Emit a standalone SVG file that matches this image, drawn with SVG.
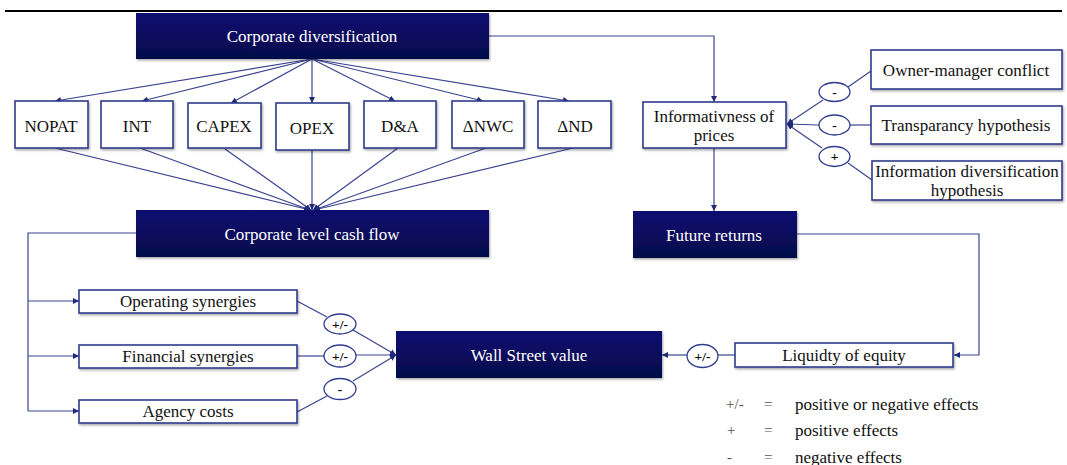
<svg xmlns="http://www.w3.org/2000/svg" width="1067" height="465" viewBox="0 0 1067 465">
<defs>
<linearGradient id="navy" x1="0" y1="0" x2="0" y2="1">
<stop offset="0" stop-color="#0c0f72"/>
<stop offset="1" stop-color="#05084a"/>
</linearGradient>
<filter id="sh" x="-5%" y="-10%" width="110%" height="130%">
<feDropShadow dx="1" dy="1.5" stdDeviation="1" flood-color="#000" flood-opacity="0.35"/>
</filter>
<marker id="ah" viewBox="0 0 10 10" refX="10" refY="5" markerWidth="6" markerHeight="6" orient="auto" markerUnits="userSpaceOnUse">
<path d="M0,0 L10,5 L0,10 z" fill="#1f2a78"/>
</marker>
</defs>
<style>
.dark{fill:url(#navy);filter:url(#sh);}
.box{fill:#fff;stroke:#2f3b8c;stroke-width:1.6;filter:url(#sh);}
.ell{fill:#fff;stroke:#2f3b8c;stroke-width:1.3;}
.ln{fill:none;stroke:#3a4590;stroke-width:1.2;}
.arr{fill:none;stroke:#3a4590;stroke-width:1.2;marker-end:url(#ah);}
text{font-family:"Liberation Serif","Times New Roman",serif;text-anchor:middle;dominant-baseline:central;}
.wt{fill:#fff;font-size:17px;}
.bt{fill:#111;font-size:17px;}
.st{fill:#000;font-size:13.5px;font-weight:bold;}
.lg{fill:#111;font-size:17px;text-anchor:start;}
.lgs{fill:#555;font-size:15px;text-anchor:start;}
</style>
<line x1="5" y1="11" x2="1062" y2="11" stroke="#000" stroke-width="2.2"/>

<g id="connectors">
<line class="arr" x1="312" y1="59" x2="55" y2="101"/>
<line class="arr" x1="312" y1="59" x2="142" y2="101"/>
<line class="arr" x1="312" y1="59" x2="231" y2="103"/>
<line class="arr" x1="312" y1="59" x2="312" y2="103"/>
<line class="arr" x1="312" y1="59" x2="395" y2="101"/>
<line class="arr" x1="312" y1="59" x2="483" y2="101"/>
<line class="arr" x1="312" y1="59" x2="569" y2="101"/>
<line class="arr" x1="55" y1="148" x2="310" y2="210"/>
<line class="arr" x1="140" y1="148" x2="310" y2="210"/>
<line class="arr" x1="225" y1="149" x2="311" y2="210"/>
<line class="arr" x1="312" y1="150" x2="312" y2="210"/>
<line class="arr" x1="398" y1="148" x2="313" y2="210"/>
<line class="arr" x1="486" y1="148" x2="314" y2="210"/>
<line class="arr" x1="573" y1="148" x2="314" y2="210"/>
<polyline class="arr" points="489,36 714,36 714,102"/>
<line class="arr" x1="714" y1="148" x2="714" y2="211"/>
<line class="ln" x1="871" y1="71" x2="848" y2="87"/>
<line class="arr" x1="823" y1="100" x2="787" y2="124"/>
<line class="ln" x1="871" y1="125" x2="850" y2="125"/>
<line class="arr" x1="819" y1="125" x2="787" y2="124"/>
<line class="ln" x1="872" y1="180" x2="848" y2="163"/>
<line class="arr" x1="822" y1="148" x2="787" y2="124"/>
<polyline class="ln" points="136,233 28,233 28,411"/>
<line class="arr" x1="28" y1="301" x2="79" y2="301"/>
<line class="arr" x1="28" y1="356" x2="79" y2="356"/>
<line class="arr" x1="28" y1="411" x2="79" y2="411"/>
<line class="ln" x1="297" y1="301" x2="327" y2="317"/>
<line class="arr" x1="353" y1="330" x2="396" y2="355"/>
<line class="ln" x1="297" y1="356" x2="324" y2="356"/>
<line class="arr" x1="356" y1="355" x2="396" y2="355"/>
<line class="ln" x1="297" y1="412" x2="327" y2="396"/>
<line class="arr" x1="353" y1="381" x2="396" y2="355"/>
<polyline class="arr" points="797,234 979,234 979,355 954,355"/>
<line class="ln" x1="735" y1="355" x2="718" y2="355"/>
<line class="arr" x1="687" y1="355" x2="662" y2="355"/>
</g>

<g id="corporate-diversification">
<rect class="dark" x="136" y="13" width="353" height="46"/>
<text class="wt" x="312" y="36">Corporate diversification</text>
</g>
<g id="nopat"><rect class="box" x="15" y="101" width="73" height="47"/><text class="bt" x="51" y="126">NOPAT</text></g>
<g id="int"><rect class="box" x="101" y="101" width="72" height="47"/><text class="bt" x="137" y="126">INT</text></g>
<g id="capex"><rect class="box" x="188" y="103" width="73" height="45"/><text class="bt" x="224" y="126">CAPEX</text></g>
<g id="opex"><rect class="box" x="276" y="103" width="73" height="47"/><text class="bt" x="312" y="128">OPEX</text></g>
<g id="da"><rect class="box" x="364" y="101" width="72" height="47"/><text class="bt" x="400" y="126">D&amp;A</text></g>
<g id="dnwc"><rect class="box" x="452" y="101" width="72" height="47"/><text class="bt" x="488" y="126">ΔNWC</text></g>
<g id="dnd"><rect class="box" x="538" y="101" width="73" height="47"/><text class="bt" x="575" y="126">ΔND</text></g>

<g id="corporate-level-cash-flow">
<rect class="dark" x="136" y="210" width="353" height="47"/>
<text class="wt" x="312" y="234">Corporate level cash flow</text>
</g>

<g id="informativness">
<rect class="box" x="643" y="102" width="143" height="46"/>
<text class="bt" x="714" y="116">Informativness of</text>
<text class="bt" x="714" y="135">prices</text>
</g>
<g id="future-returns">
<rect class="dark" x="633" y="211" width="164" height="47"/>
<text class="wt" x="714" y="235">Future returns</text>
</g>

<g id="owner-manager">
<rect class="box" x="871" y="50" width="191" height="39"/>
<text class="bt" x="966" y="70">Owner-manager conflict</text>
</g>
<g id="transparancy">
<rect class="box" x="871" y="106" width="191" height="38"/>
<text class="bt" x="966" y="125">Transparancy hypothesis</text>
</g>
<g id="info-div">
<rect class="box" x="872" y="161" width="190" height="39"/>
<text class="bt" x="967" y="171">Information diversification</text>
<text class="bt" x="967" y="190">hypothesis</text>
</g>
<g id="sign-owner"><ellipse class="ell" cx="834.5" cy="92" rx="15.5" ry="9.5"/><text class="st" x="834.5" y="92">-</text></g>
<g id="sign-transp"><ellipse class="ell" cx="834.5" cy="125" rx="15.5" ry="10"/><text class="st" x="834.5" y="125">-</text></g>
<g id="sign-info"><ellipse class="ell" cx="834.5" cy="156.5" rx="15.5" ry="10"/><text class="st" x="834.5" y="156.5">+</text></g>

<g id="operating-synergies">
<rect class="box" x="79" y="290" width="218" height="23"/>
<text class="bt" x="188" y="301.5">Operating synergies</text>
</g>
<g id="financial-synergies">
<rect class="box" x="79" y="345" width="218" height="23"/>
<text class="bt" x="188" y="356.5">Financial synergies</text>
</g>
<g id="agency-costs">
<rect class="box" x="79" y="400" width="218" height="23"/>
<text class="bt" x="188" y="411.5">Agency costs</text>
</g>
<g id="sign-op"><ellipse class="ell" cx="340" cy="324" rx="16" ry="10"/><text class="st" x="340" y="324">+/-</text></g>
<g id="sign-fin"><ellipse class="ell" cx="340" cy="356" rx="16" ry="11"/><text class="st" x="340" y="356">+/-</text></g>
<g id="sign-ag"><ellipse class="ell" cx="340" cy="389" rx="16" ry="10.5"/><text class="st" x="340" y="389">-</text></g>

<g id="wall-street-value">
<rect class="dark" x="396" y="331" width="266" height="47"/>
<text class="wt" x="529" y="355">Wall Street value</text>
</g>
<g id="sign-liq"><ellipse class="ell" cx="702.5" cy="356" rx="15.5" ry="11.5"/><text class="st" x="702.5" y="356">+/-</text></g>
<g id="liquidity">
<rect class="box" x="735" y="343" width="218" height="24"/>
<text class="bt" x="844" y="355">Liquidty of equity</text>
</g>

<g id="legend">
<text class="lgs" x="726" y="404">+/-</text>
<text class="lgs" x="764" y="404">=</text>
<text class="lg" x="795" y="404">positive or negative effects</text>
<text class="lgs" x="727" y="430">+</text>
<text class="lgs" x="764" y="430">=</text>
<text class="lg" x="795" y="430">positive effects</text>
<text class="lgs" x="727" y="457">-</text>
<text class="lgs" x="764" y="457">=</text>
<text class="lg" x="795" y="457">negative effects</text>
</g>
</svg>
